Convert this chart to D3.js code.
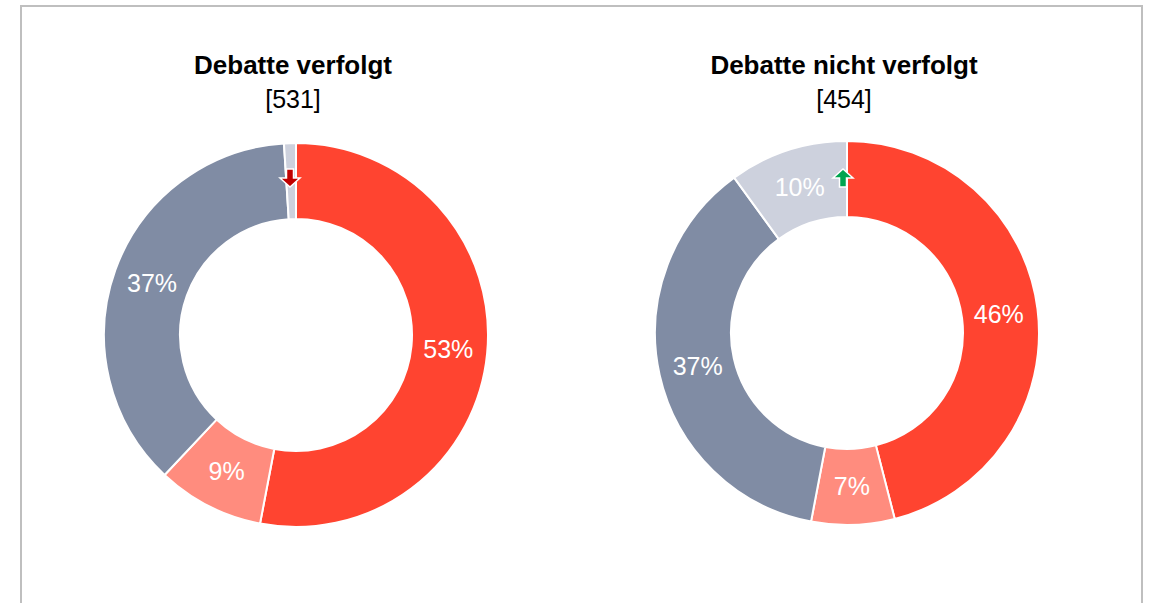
<!DOCTYPE html>
<html><head><meta charset="utf-8">
<script src="https://cdn.jsdelivr.net/npm/d3@7"></script>
<style>body{margin:0;background:#fff;}svg{display:block;font-family:"Liberation Sans",Arial,sans-serif;}</style>
</head><body>
<svg id="chart" width="1150" height="603"></svg>
<script>
const categories = ["A", "B", "C", "D"];
const colors = ["#FF4430", "#FF8C7E", "#808CA4", "#CDD1DD"];
const titles = ["Debatte verfolgt", "Debatte nicht verfolgt"];
const counts = ["[531]", "[454]"];
const valuesLeft = [53, 9, 37, 1];
const valuesRight = [46, 7, 37, 10];
const labelsLeft = ["53%", "9%", "37%", ""];
const labelsRight = ["46%", "7%", "37%", "10%"];
const arrows = ["down", "up"];

const svg = d3.select("#chart");
svg.append("rect").attr("x", 21).attr("y", 6).attr("width", 1121).attr("height", 700)
  .attr("fill", "#fff").attr("stroke", "#bfbfbf").attr("stroke-width", 2);

const panels = [
  {cx: 296, cy: 335, values: valuesLeft, labels: labelsLeft, title: titles[0], count: counts[0], arrow: arrows[0]},
  {cx: 847, cy: 333, values: valuesRight, labels: labelsRight, title: titles[1], count: counts[1], arrow: arrows[1]}
];
const R = 192, r = 116;
const pie = d3.pie().sort(null).value(d => d.v);
const arc = d3.arc().outerRadius(R).innerRadius(r);
const labelArc = d3.arc().outerRadius(153).innerRadius(153);

panels.forEach(p => {
  const g = svg.append("g").attr("transform", `translate(${p.cx},${p.cy})`);
  const data = pie(p.values.map((v, i) => ({v, i, label: p.labels[i]})));
  g.selectAll("path").data(data).join("path")
    .attr("d", arc).attr("fill", d => colors[d.data.i])
    .attr("stroke", "#fff").attr("stroke-width", 2);
  g.selectAll("text.lab").data(data.filter(d => d.data.label)).join("text")
    .attr("class", "lab")
    .attr("transform", d => `translate(${labelArc.centroid(d)})`)
    .attr("text-anchor", "middle").attr("dy", "0.36em")
    .attr("fill", "#fff").attr("font-size", 25)
    .text(d => d.data.label);
  svg.append("text").attr("x", p.cx - 3).attr("y", 74).attr("text-anchor", "middle")
    .attr("font-size", 26).attr("font-weight", "bold").attr("fill", "#000").text(p.title);
  svg.append("text").attr("x", p.cx - 3).attr("y", 108).attr("text-anchor", "middle")
    .attr("font-size", 25).attr("fill", "#000").text(p.count);
  // arrow indicator
  const ax = p.cx - (p.arrow === "down" ? 6 : 4), ay = 178;
  const up = p.arrow === "up";
  const s = up ? -1 : 1;
  const pts = [[-3.5, -9 * s], [3.5, -9 * s], [3.5, 0], [10, 0], [0, 9 * s], [-10, 0], [-3.5, 0]];
  svg.append("path")
    .attr("d", d3.line()(pts.map(q => [ax + q[0], ay + q[1]])) + "Z")
    .attr("fill", up ? "#00A550" : "#C00000")
    .attr("stroke", "#fff").attr("stroke-width", 1.5).attr("stroke-linejoin", "miter");
});
</script>
</body></html>
